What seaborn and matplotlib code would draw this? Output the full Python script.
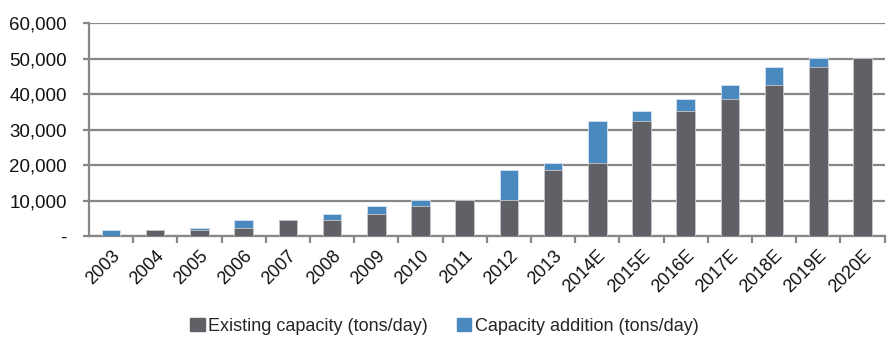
import matplotlib
matplotlib.use('Agg')
import matplotlib.pyplot as plt
import matplotlib.ticker as mticker
import matplotlib.transforms as mtransforms
from matplotlib.patches import Patch
import seaborn as sns
import numpy as np
import pandas as pd

years = ['2003', '2004', '2005', '2006', '2007', '2008', '2009', '2010', '2011',
         '2012', '2013', '2014E', '2015E', '2016E', '2017E', '2018E', '2019E', '2020E']
existing = [0, 1800, 1800, 2300, 4700, 4700, 6300, 8400, 10200,
            10200, 18700, 20700, 32500, 35200, 38600, 42600, 47600, 50300]
addition = [1800, 0, 500, 2400, 0, 1500, 2100, 1800, 0,
            8500, 2000, 11800, 2700, 3400, 4000, 4900, 2700, 0]

GREY = '#606166'
BLUE = '#4A89C0'
LINE = '#878787'

sns.set_style('white')
plt.rcParams['font.family'] = ['Liberation Sans', 'DejaVu Sans']

df = pd.DataFrame({'year': years, 'existing': existing, 'addition': addition})
df['total'] = df['existing'] + df['addition']

fig, ax = plt.subplots(figsize=(8.89, 3.39), dpi=100)
fig.subplots_adjust(left=0.100, right=0.995, top=0.932, bottom=0.303)

# stacked: total in blue, existing drawn over it
sns.barplot(data=df, x='year', y='total', color=BLUE, width=0.42, ax=ax,
            edgecolor='#d6e3f0', linewidth=0.6, saturation=1, zorder=3)
sns.barplot(data=df, x='year', y='existing', color=GREY, width=0.42, ax=ax,
            edgecolor='#c8c8c8', linewidth=0.6, saturation=1, zorder=4)

ax.set_ylim(0, 60000)
ax.set_xlim(-0.5, len(years) - 0.5)
ax.yaxis.set_major_locator(mticker.MultipleLocator(10000))
ax.yaxis.set_major_formatter(mticker.FuncFormatter(
    lambda v, p: '-' if v == 0 else f'{int(v):,}'))
ax.grid(axis='y', color=LINE, linewidth=1.6, zorder=0)
ax.set_axisbelow(True)

for s in ['top', 'right']:
    ax.spines[s].set_visible(False)
for s in ['left', 'bottom']:
    ax.spines[s].set_color(LINE)
    ax.spines[s].set_linewidth(1.6)

ax.set_xlabel('')
ax.set_ylabel('')
ax.tick_params(axis='y', length=4, width=1.6, color=LINE, pad=12,
               labelsize=13.5, labelcolor='#111111', left=True)
ax.tick_params(axis='x', which='major', length=0, pad=12, labelsize=13,
               labelcolor='#111111')
ax.set_xticks(np.arange(len(years)) + 0.5, minor=True)
ax.tick_params(axis='x', which='minor', length=5, width=1.6, color=LINE,
               bottom=True)
shift = mtransforms.ScaledTranslation(6 / 100, 0, fig.dpi_scale_trans)
for lbl in ax.get_xticklabels():
    lbl.set_rotation(45)
    lbl.set_ha('right')
    lbl.set_va('center')
    lbl.set_rotation_mode('anchor')
    lbl.set_transform(lbl.get_transform() + shift)

handles = [Patch(color=GREY, label='Existing capacity (tons/day)'),
           Patch(color=BLUE, label='Capacity addition (tons/day)')]
fig.legend(handles=handles, loc='center', bbox_to_anchor=(0.5, 0.038), ncol=2,
           frameon=False, fontsize=13, handlelength=0.8, handleheight=0.8,
           handletextpad=0.2, columnspacing=1.6)

fig.savefig('out.png', dpi=100)
